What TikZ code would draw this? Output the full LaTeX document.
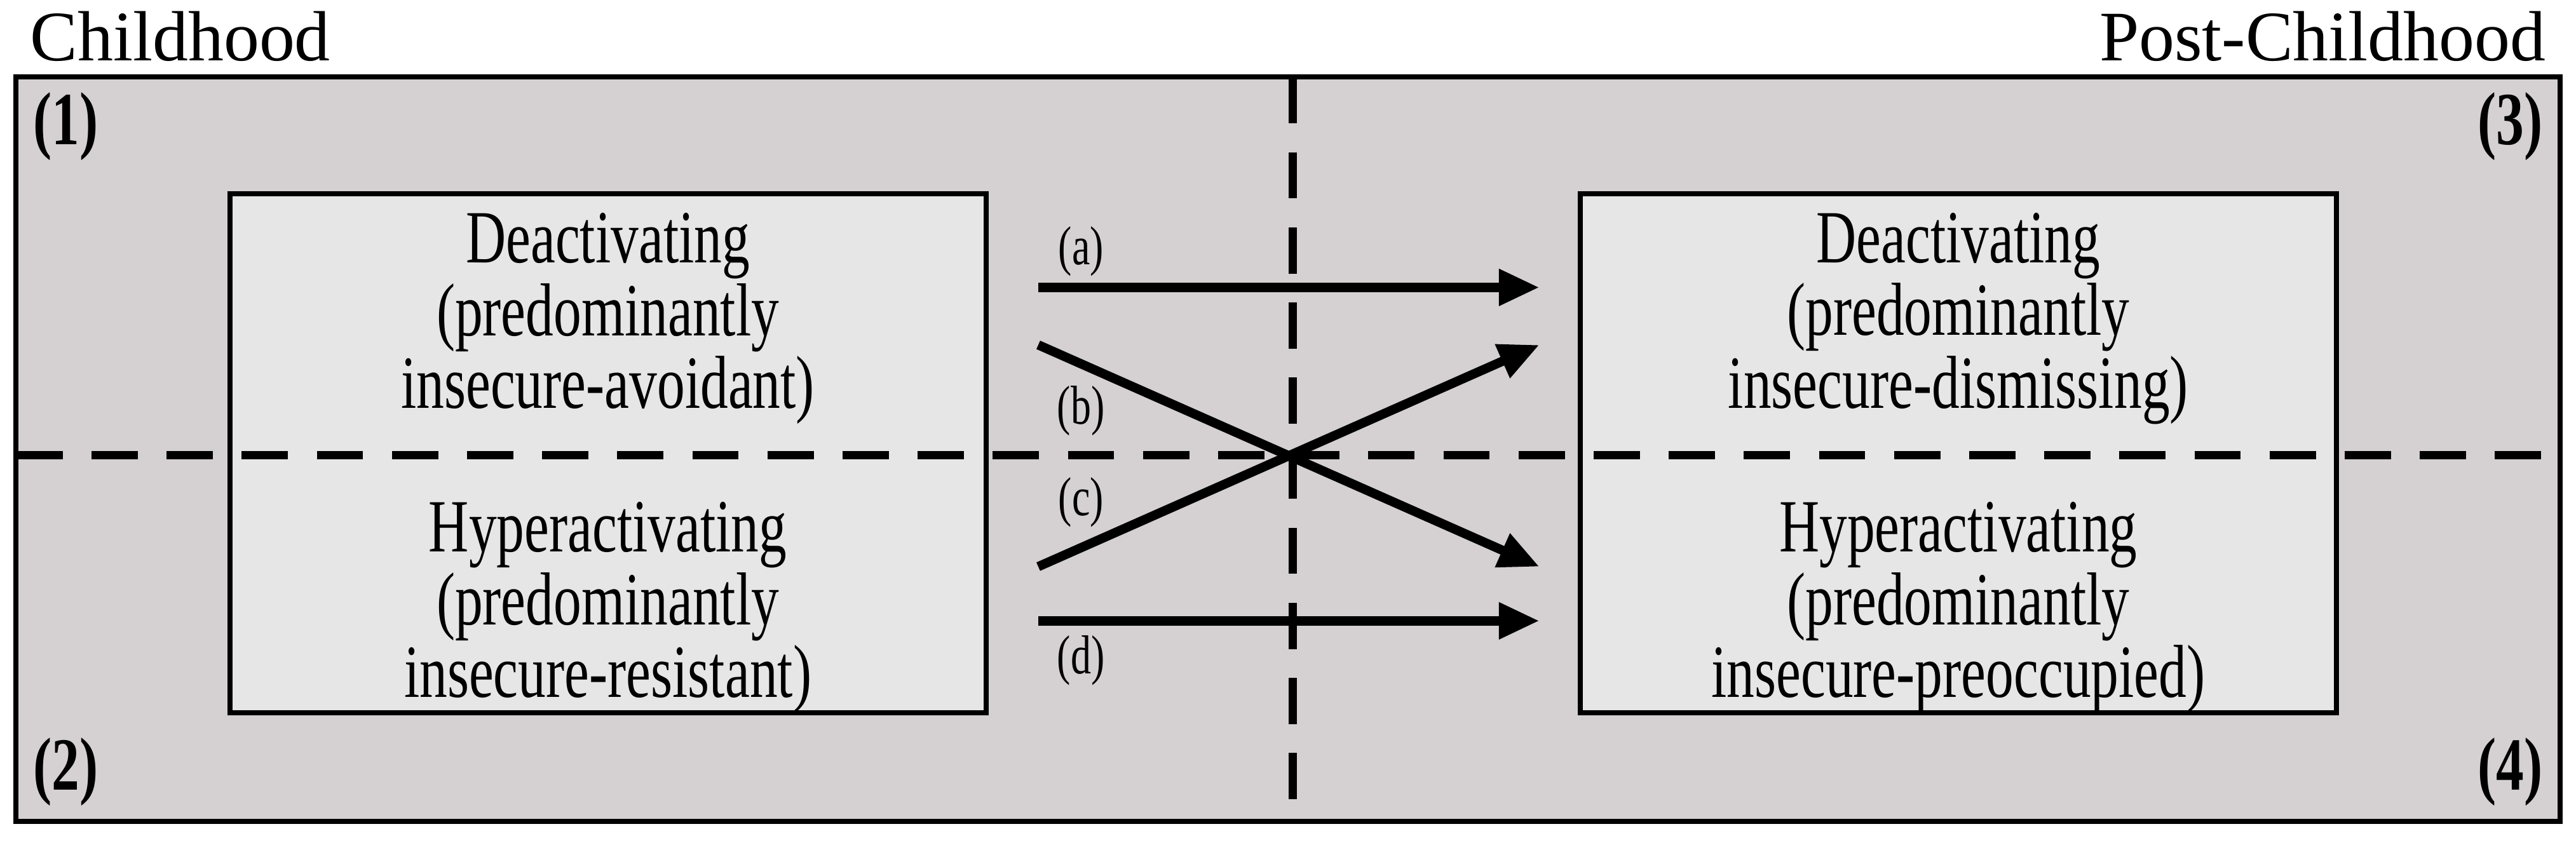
\documentclass[tikz,border=0pt]{standalone}
\usepackage{fontspec}
\setmainfont{Liberation Serif}
\newfontfamily\narrowfont{Liberation Serif}[FakeStretch=0.74]
\usetikzlibrary{arrows.meta}
\definecolor{outerbg}{HTML}{D5D0D1}
\definecolor{boxbg}{HTML}{E6E6E6}
\tikzset{
  stbox/.style={draw=black,line width=0.9pt,fill=boxbg,minimum width=4.6cm,minimum height=3.16cm,inner sep=0pt},
  maintext/.style={font=\narrowfont\fontsize{13}{12.6}\selectfont,align=center},
  titletext/.style={font=\fontsize{12.3}{15.5}\selectfont},
  arr/.style={line width=1.6pt,-{Triangle[length=7pt,width=6pt]}},
  lab/.style={font=\narrowfont\fontsize{9.5}{10}\selectfont},
  corner/.style={font=\narrowfont\bfseries\fontsize{13}{14}\selectfont},
  dsh/.style={line width=1.4pt,dash pattern=on 8pt off 5pt}
}
\begin{document}
\begin{tikzpicture}[x=0.01cm,y=-0.01cm]
\useasboundingbox (0,0) rectangle (1568,513);
\node[draw=black,line width=0.9pt,fill=outerbg,minimum width=15.48cm,minimum height=4.53cm,inner sep=0pt] (outer) at (784,273.5) {};
\coordinate (vt) at (787,47); \coordinate (vb) at (787,500);
\coordinate (hl) at (10,277); \coordinate (hr) at (1558,277);
\node[stbox] (L) at (370,276) {};
\node[stbox] (R) at (1192,276) {};
\draw[dsh] (vt) -- (vb);
\draw[dsh] (hl) -- (hr);
\node[maintext] (Lt) at (370,194) {Deactivating\\(predominantly\\insecure-avoidant)};
\node[maintext] (Lb) at (370,370) {Hyperactivating\\(predominantly\\insecure-resistant)};
\node[maintext] (Rt) at (1192,194) {Deactivating\\(predominantly\\insecure-dismissing)};
\node[maintext] (Rb) at (1192,370) {Hyperactivating\\(predominantly\\insecure-preoccupied)};
\coordinate (a1) at (632,175); \coordinate (a2) at (937,175);
\coordinate (b1) at (632,210); \coordinate (b2) at (937,345);
\coordinate (c1) at (632,345); \coordinate (c2) at (937,210);
\coordinate (d1) at (632,378); \coordinate (d2) at (937,378);
\draw[arr] (a1) -- (a2);
\draw[arr] (b1) -- (b2);
\draw[arr] (c1) -- (c2);
\draw[arr] (d1) -- (d2);
\node[lab] (la) at (658,153) {(a)};
\node[lab] (lb) at (658,250) {(b)};
\node[lab] (lc) at (658,306) {(c)};
\node[lab] (ld) at (658,402) {(d)};
\node[corner] (n1) at (40,77) {(1)};
\node[corner] (n2) at (40,470) {(2)};
\node[corner] (n3) at (1528,77) {(3)};
\node[corner] (n4) at (1528,470) {(4)};
\node[titletext,anchor=west] (ch) at (6,22) {Childhood};
\node[titletext,anchor=east] (pch) at (1562,22) {Post-Childhood};
\end{tikzpicture}
\end{document}
